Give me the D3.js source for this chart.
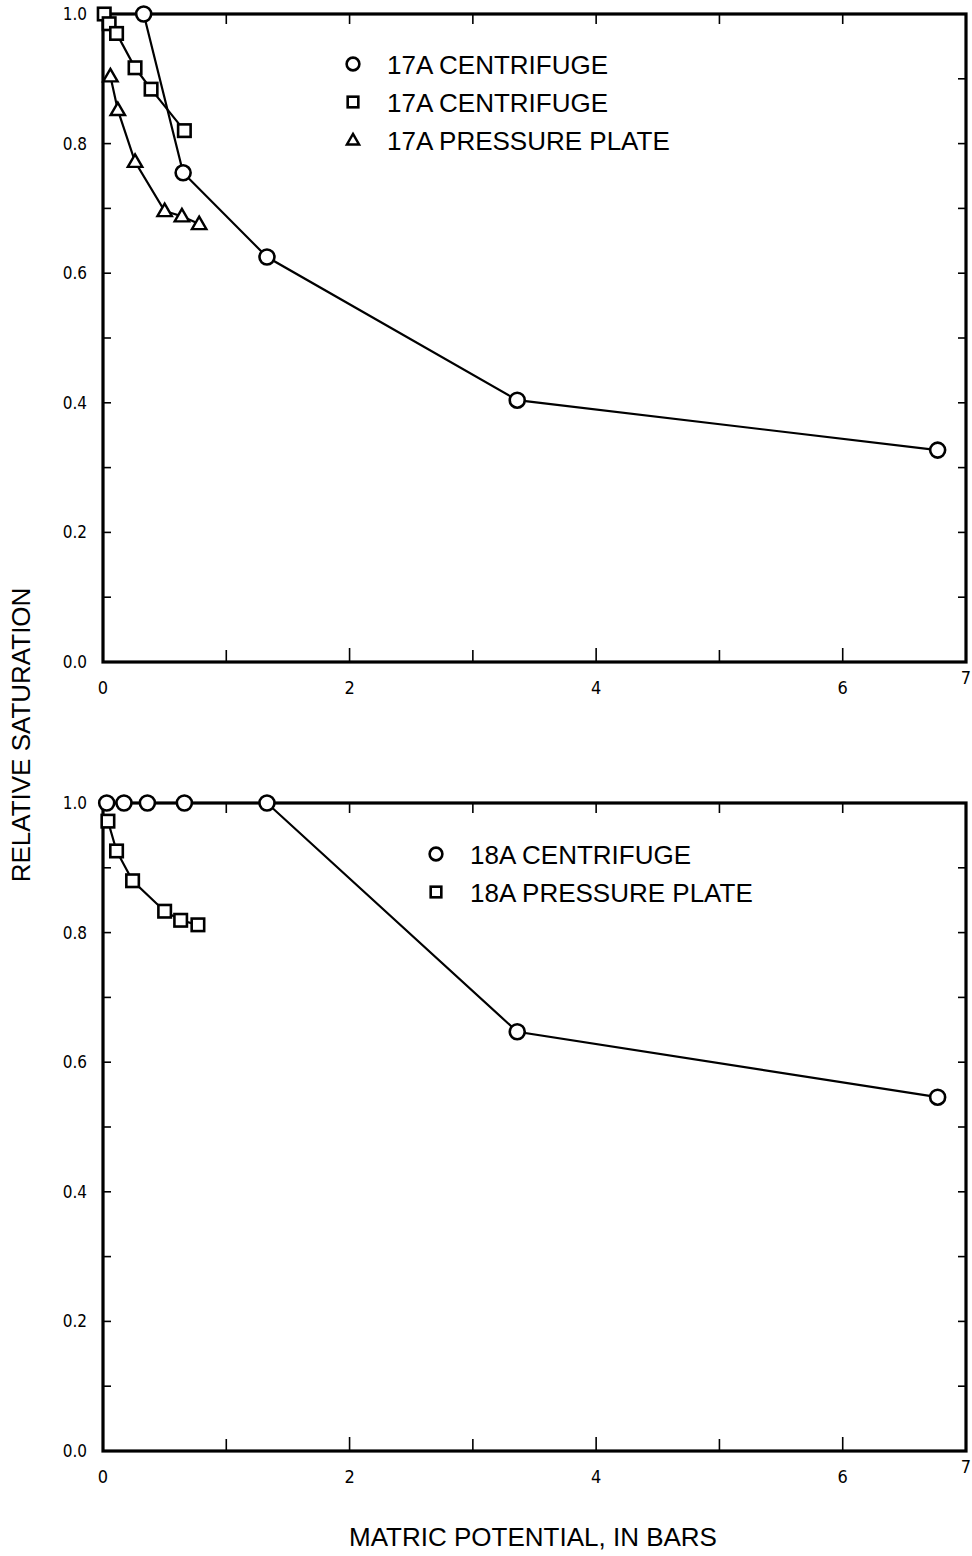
<!DOCTYPE html>
<html>
<head>
<meta charset="utf-8">
<script src="https://cdn.jsdelivr.net/npm/d3@7"></script>
<style>
  body { margin: 0; background: #fff; }
  svg { display: block; }
</style>
</head>
<body>
<div id="chart"></div>
<script>
// data (x = matric potential in bars, y = relative saturation)
const top_circle_x = [0.33, 0.65, 1.33, 3.36, 6.77];
const top_circle_y = [1.0, 0.755, 0.625, 0.404, 0.327];
const top_square_x = [0.01, 0.05, 0.11, 0.26, 0.39, 0.66];
const top_square_y = [1.0, 0.985, 0.97, 0.917, 0.884, 0.82];
const top_tri_x = [0.06, 0.12, 0.26, 0.5, 0.64, 0.78];
const top_tri_y = [0.904, 0.852, 0.772, 0.696, 0.688, 0.676];

const bot_circle_x = [0.03, 0.17, 0.36, 0.66, 1.33, 3.36, 6.77];
const bot_circle_y = [1.0, 1.0, 1.0, 1.0, 1.0, 0.647, 0.546];
const bot_square_x = [0.04, 0.11, 0.24, 0.5, 0.63, 0.77];
const bot_square_y = [0.972, 0.926, 0.88, 0.833, 0.819, 0.812];

const xTickLabels = [0, 2, 4, 6, 7];
const yTickLabels = [0, 0.2, 0.4, 0.6, 0.8, 1.0];

const topLegend = ["17A CENTRIFUGE", "17A CENTRIFUGE", "17A PRESSURE PLATE"];
const botLegend = ["18A CENTRIFUGE", "18A PRESSURE PLATE"];

const W = 972, H = 1556;
const svg = d3.select("#chart").append("svg").attr("width", W).attr("height", H);

const left = 103, right = 966;
const tickFont = "'Liberation Sans Narrow', 'DejaVu Sans Condensed', 'Liberation Sans', sans-serif";
const labelFont = "'Liberation Sans', Arial, sans-serif";

const x = d3.scaleLinear().domain([0, 7]).range([left, right]);

const zip = (xs, ys) => xs.map((v, i) => [v, ys[i]]);

function panel(top, bottom, series, legend, legendPos) {
  const y = d3.scaleLinear().domain([0, 1]).range([bottom, top]);
  const g = svg.append("g");

  // ticks pointing inward on all four sides
  const yt = d3.range(0, 11).map(d => d / 10);
  g.selectAll(".ytl").data(yt).enter().append("line")
    .attr("x1", left).attr("x2", left + 8)
    .attr("y1", d => y(d)).attr("y2", d => y(d))
    .attr("stroke", "#000").attr("stroke-width", 1.6);
  g.selectAll(".ytr").data(yt).enter().append("line")
    .attr("x1", right).attr("x2", right - 8)
    .attr("y1", d => y(d)).attr("y2", d => y(d))
    .attr("stroke", "#000").attr("stroke-width", 1.6);
  const xt = d3.range(1, 7);
  g.selectAll(".xtb").data(xt).enter().append("line")
    .attr("x1", d => x(d)).attr("x2", d => x(d))
    .attr("y1", bottom).attr("y2", d => bottom - (d % 2 === 0 ? 14 : 12))
    .attr("stroke", "#000").attr("stroke-width", 1.6);
  g.selectAll(".xtt").data(xt).enter().append("line")
    .attr("x1", d => x(d)).attr("x2", d => x(d))
    .attr("y1", top).attr("y2", top + 10)
    .attr("stroke", "#000").attr("stroke-width", 1.6);

  // frame
  g.append("rect")
    .attr("x", left).attr("y", top)
    .attr("width", right - left).attr("height", bottom - top)
    .attr("fill", "none").attr("stroke", "#000").attr("stroke-width", 3.2);

  // tick labels
  g.selectAll(".ylab").data(yTickLabels).enter().append("text")
    .attr("x", left - 16).attr("y", d => y(d) + 6)
    .attr("text-anchor", "end")
    .attr("font-family", tickFont).attr("font-size", 17)
    .text(d => d3.format(".1f")(d));
  g.selectAll(".xlab").data(xTickLabels).enter().append("text")
    .attr("x", d => x(d)).attr("y", d => bottom + (d === 7 ? 22 : 32))
    .attr("text-anchor", "middle")
    .attr("font-family", tickFont).attr("font-size", 18)
    .text(d => d);

  const line = d3.line().x(d => x(d[0])).y(d => y(d[1]));

  series.forEach(s => {
    const pts = zip(s.xs, s.ys);
    g.append("path").datum(pts)
      .attr("d", line)
      .attr("fill", "none").attr("stroke", "#000").attr("stroke-width", 2.2);
    drawMarkers(g, pts.map(p => [x(p[0]), y(p[1])]), s.shape, 1);
  });

  // legend
  legend.forEach((txt, i) => {
    const ly = legendPos[1] + i * 38;
    drawMarkers(g, [[legendPos[0], ly]], series[i].shape, 0.85);
    g.append("text")
      .attr("x", legendPos[0] + 34).attr("y", ly + 10)
      .attr("font-family", labelFont).attr("font-size", 26)
      .text(txt);
  });
}

function drawMarkers(g, pts, shape, k) {
  if (shape === "circle") {
    g.selectAll(null).data(pts).enter().append("circle")
      .attr("cx", d => d[0]).attr("cy", d => d[1]).attr("r", 7.5 * k)
      .attr("fill", "#fff").attr("stroke", "#000").attr("stroke-width", 2.6);
  } else if (shape === "square") {
    const s = 12.5 * k;
    g.selectAll(null).data(pts).enter().append("rect")
      .attr("x", d => d[0] - s / 2).attr("y", d => d[1] - s / 2)
      .attr("width", s).attr("height", s)
      .attr("fill", "#fff").attr("stroke", "#000").attr("stroke-width", 2.6);
  } else {
    const sym = d3.symbol().type(d3.symbolTriangle).size(90 * k * k);
    g.selectAll(null).data(pts).enter().append("path")
      .attr("d", sym)
      .attr("transform", d => "translate(" + d[0] + "," + (d[1] + 1) + ")")
      .attr("fill", "#fff").attr("stroke", "#000").attr("stroke-width", 2.4);
  }
}

panel(14, 662, [
  { xs: top_circle_x, ys: top_circle_y, shape: "circle" },
  { xs: top_square_x, ys: top_square_y, shape: "square" },
  { xs: top_tri_x, ys: top_tri_y, shape: "triangle" }
], topLegend, [353, 64]);

panel(803, 1451, [
  { xs: bot_circle_x, ys: bot_circle_y, shape: "circle" },
  { xs: bot_square_x, ys: bot_square_y, shape: "square" }
], botLegend, [436, 854]);

// axis titles
svg.append("text")
  .attr("transform", "translate(30,735) rotate(-90)")
  .attr("text-anchor", "middle")
  .attr("font-family", labelFont).attr("font-size", 26)
  .text("RELATIVE SATURATION");

svg.append("text")
  .attr("x", 533).attr("y", 1546)
  .attr("text-anchor", "middle")
  .attr("font-family", labelFont).attr("font-size", 26)
  .text("MATRIC POTENTIAL, IN BARS");
</script>
</body>
</html>
